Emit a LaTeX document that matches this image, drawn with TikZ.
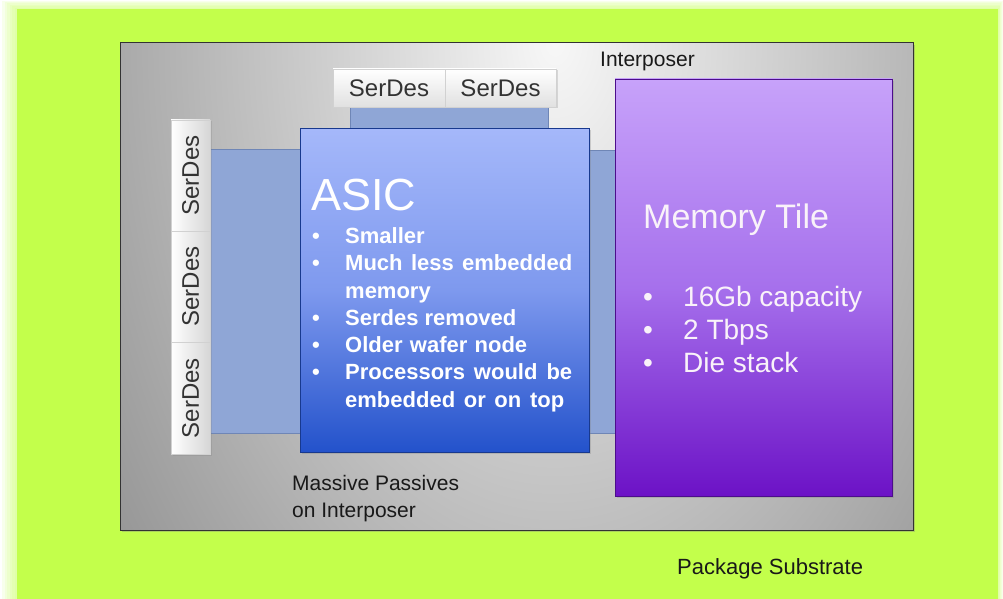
\documentclass[tikz,border=0pt]{standalone}
\usepackage{fontspec}
\setmainfont{Liberation Sans}
\usetikzlibrary{shadows}
\definecolor{pkggreen}{HTML}{C3FF4B}
\definecolor{bargray}{HTML}{8FA6D6}
\definecolor{barline}{HTML}{6F86B6}
\definecolor{asictop}{HTML}{A5B8FA}
\definecolor{asicmid}{HTML}{7E99EE}
\definecolor{asicbot}{HTML}{2352CB}
\definecolor{memtop}{HTML}{C7A2FA}
\definecolor{memmid}{HTML}{A670EC}
\definecolor{membot}{HTML}{6C12C6}
\definecolor{sdtext}{HTML}{333333}
\definecolor{intgray}{HTML}{858585}
\tikzset{
  box/.style={rectangle, inner sep=0pt, outer sep=0pt},
  barbox/.style={box, fill=bargray, draw=barline, line width=0.6pt},
  sdbox/.style={box, draw=black!18, line width=0.6pt, top color=white, bottom color=black!12,
    drop shadow={opacity=0.25, shadow xshift=1.5pt, shadow yshift=-1.5pt},
    font=\fontsize{24}{24}\selectfont, text=sdtext},
  sdvbox/.style={box, draw=black!18, line width=0.6pt, left color=white, right color=black!16,
    drop shadow={opacity=0.25, shadow xshift=1.5pt, shadow yshift=-1.5pt},
    font=\fontsize{24}{24}\selectfont, text=sdtext},
  chip/.style={box, drop shadow={opacity=0.3, shadow xshift=2pt, shadow yshift=-2pt}},
  asicbullet/.style={anchor=base west, inner sep=0pt, text=white, font=\bfseries\fontsize{22}{22}\selectfont},
  membullet/.style={anchor=base west, inner sep=0pt, text=white!95!violet, font=\fontsize{28}{28}\selectfont},
  lbl/.style={anchor=base west, inner sep=0pt, text=black!90, font=\fontsize{21}{21}\selectfont},
}
\begin{document}
\begin{tikzpicture}[x=1pt,y=-1pt]
\useasboundingbox (0,0) rectangle (1003,599);
\fill[white] (0,0) rectangle (1003,599);
% glow around package substrate
\foreach \i in {1,...,6}{
  \fill[pkggreen, opacity=0.1] ({17-2.5*\i},{9-1.4*\i}) rectangle ({998+0.8*\i},599);
}
\node[box, fill=pkggreen, minimum width=981pt, minimum height=590pt] (pkg) at (507.5,304) {};

% interposer
\node[box, minimum width=793pt, minimum height=487pt, draw=black!80, line width=1pt,
  drop shadow={opacity=0.35, shadow xshift=2pt, shadow yshift=-2pt}, fill=intgray] (interposer) at (516.5,286.5) {};
\begin{scope}
  \clip (120,43) rectangle (913,530);
  \shade[inner color=white!97!black, outer color=intgray] (555,40) ellipse (640 and 1000);
\end{scope}
\draw[black!80, line width=1pt] (interposer.north west) rectangle (interposer.south east);

% interconnect bars
\node[barbox, minimum width=198pt, minimum height=21pt] (topbar) at (449,117.5) {};
\node[barbox, minimum width=91pt, minimum height=284pt] (lbar) at (254.5,291) {};
\node[barbox, minimum width=26pt, minimum height=283pt] (rbar) at (602,291.5) {};

% ASIC
\node[chip, minimum width=289pt, minimum height=324pt, top color=asictop, bottom color=asicbot, middle color=asicmid,
  draw=asicbot!70!black, line width=0.4pt] (asic) at (444.5,290) {};

% Memory tile
\node[chip, minimum width=277pt, minimum height=417pt, top color=memtop, bottom color=membot, middle color=memmid,
  draw=membot!70!black, line width=0.4pt] (mem) at (753.5,287.5) {};

% top SerDes
\node[sdbox, minimum width=112pt, minimum height=38pt] (sd1) at (389,88) {SerDes};
\node[sdbox, minimum width=111pt, minimum height=38pt] (sd2) at (500.5,88) {SerDes};

% left SerDes
\node[sdvbox, minimum width=39pt, minimum height=111pt] (ls1) at (190.5,175.5) {};
\node[sdvbox, minimum width=39pt, minimum height=111pt] (ls2) at (190.5,286.5) {};
\node[sdvbox, minimum width=39pt, minimum height=112pt] (ls3) at (190.5,398) {};
\node[rotate=90, text=sdtext, font=\fontsize{24}{24}\selectfont, inner sep=0pt] (ls1t) at (ls1.center) {SerDes};
\node[rotate=90, text=sdtext, font=\fontsize{24}{24}\selectfont, inner sep=0pt] (ls2t) at (ls2.center) {SerDes};
\node[rotate=90, text=sdtext, font=\fontsize{24}{24}\selectfont, inner sep=0pt] (ls3t) at (ls3.center) {SerDes};

% ASIC text
\node[anchor=base west, inner sep=0pt, text=white, font=\fontsize{45}{45}\selectfont] (asict) at (311,210) {ASIC};
\node[asicbullet] (ab1) at (312,243) {•};
\node[asicbullet] (a1) at (345,243) {Smaller};
\node[asicbullet] (ab2) at (312,270) {•};
\node[asicbullet] (a2) at (345,270) {\makebox[227pt][s]{Much less embedded}};
\node[asicbullet] (a3) at (345,298) {memory};
\node[asicbullet] (ab4) at (312,325) {•};
\node[asicbullet] (a4) at (345,325) {Serdes removed};
\node[asicbullet] (ab5) at (312,352) {•};
\node[asicbullet] (a5) at (345,352) {\makebox[182pt][s]{Older wafer node}};
\node[asicbullet] (ab6) at (312,379) {•};
\node[asicbullet] (a6) at (345,379) {\makebox[227pt][s]{Processors would be}};
\node[asicbullet] (a7) at (345,407) {\makebox[219pt][s]{embedded or on top}};

% Memory text
\node[anchor=base west, inner sep=0pt, text=white!95!violet, font=\fontsize{34}{34}\selectfont] (memt) at (643,228) {Memory Tile};
\node[membullet] (mb1) at (643,306) {•};
\node[membullet] (m1) at (683,306) {16Gb capacity};
\node[membullet] (mb2) at (643,339) {•};
\node[membullet] (m2) at (683,339) {2 Tbps};
\node[membullet] (mb3) at (643,372) {•};
\node[membullet] (m3) at (683,372) {Die stack};

% labels
\node[lbl] (intlbl) at (600,67) {Interposer};
\node[lbl] (pass1) at (292,490) {Massive Passives};
\node[lbl] (pass2) at (292,517) {on Interposer};
\node[lbl, font=\fontsize{22}{22}\selectfont] (pkglbl) at (677,574) {Package Substrate};
\end{tikzpicture}
\end{document}
